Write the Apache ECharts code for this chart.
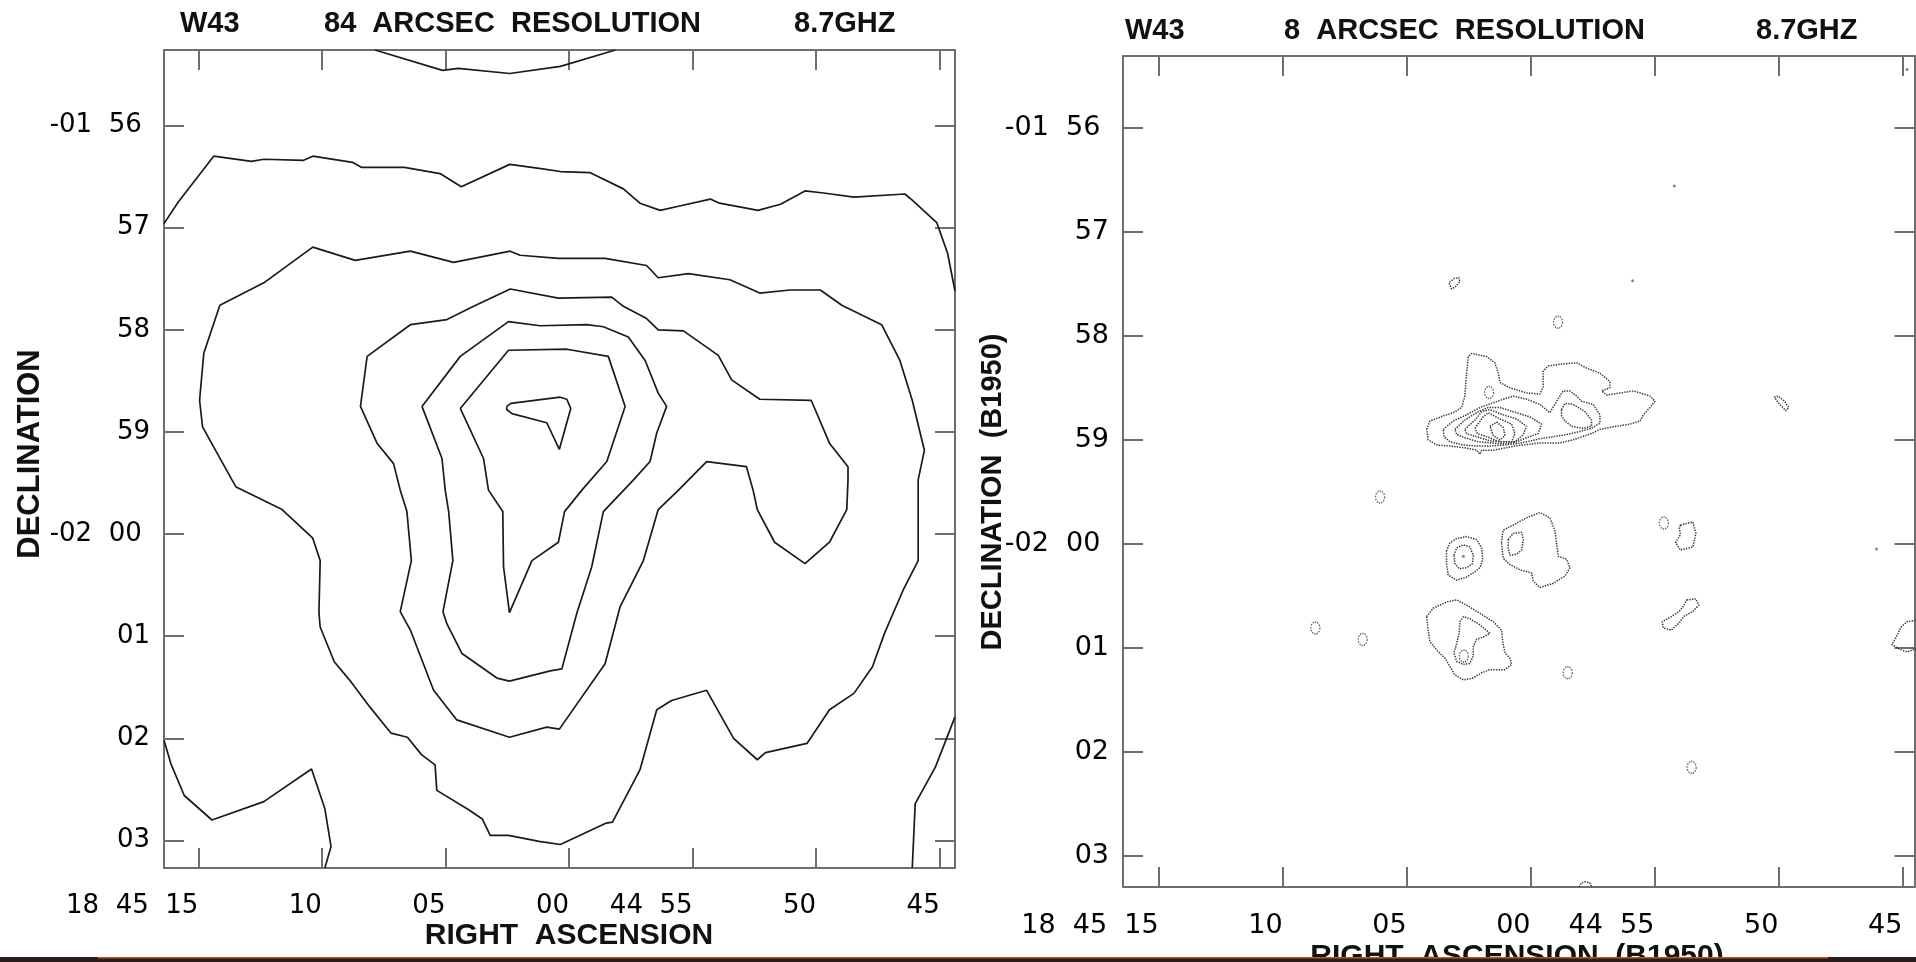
<!DOCTYPE html>
<html>
<head>
<meta charset="utf-8">
<title>W43 8.7GHz</title>
<script src="https://cdn.jsdelivr.net/npm/echarts@6/dist/echarts.min.js"></script>
<style>
  html, body { margin: 0; padding: 0; background: #fff; }
  #chart { width: 1916px; height: 962px; }
</style>
</head>
<body>
<div id="chart"></div>
<script>
// RA in seconds from 18h45m00s, Dec in arcmin from -02 00
var raTicks = [15, 10, 5, 0, -5, -10, -15];
var raLabels = ['18  45  15', '10', '05', '00', '44  55', '50', '45'];
var decTicks = [-4, -3, -2, -1, 0, 1, 2, 3];
var decLabels = ['-01  56 ', '57', '58', '59', '-02  00 ', '01', '02', '03'];

var leftRaExtent = [-15.62, 16.39];
var leftDecExtent = [-4.74, 3.27];
var rightRaExtent = [-15.49, 16.44];
var rightDecExtent = [-4.69, 3.30];

// 84 arcsec map, open contours (run off the box)
var lowTopArc = [[7.85,-4.74],[5.12,-4.54],[4.48,-4.56],[2.40,-4.51],[0.35,-4.58],[-1.88,-4.74]];
var lowBand = [[16.39,-3.04],[15.82,-3.25],[14.38,-3.70],[12.85,-3.65],[12.35,-3.67],[10.74,-3.66],[10.37,-3.70],
  [8.76,-3.64],[8.39,-3.59],[6.66,-3.59],[5.22,-3.53],[4.36,-3.40],[2.40,-3.62],[1.21,-3.58],[0.35,-3.55],
  [-0.84,-3.54],[-2.20,-3.38],[-2.87,-3.24],[-3.69,-3.17],[-4.43,-3.21],[-5.72,-3.28],[-6.09,-3.24],
  [-7.65,-3.17],[-8.56,-3.23],[-9.55,-3.36],[-10.30,-3.34],[-11.53,-3.30],[-13.59,-3.33],[-13.89,-3.27],
  [-14.88,-3.05],[-15.32,-2.75],[-15.62,-2.38]];
var lowSW = [[16.39,2.02],[16.11,2.25],[15.57,2.56],[14.45,2.80],[12.35,2.62],[10.42,2.30],[9.88,2.69],[9.63,3.06],[9.88,3.27]];
var lowSE = [[-15.62,1.79],[-14.83,2.28],[-14.01,2.64],[-13.89,3.27]];

// 84 arcsec map, closed contours from outside in
var lowC = [[14.13,-2.24],[12.35,-2.46],[10.37,-2.81],[8.65,-2.68],[6.42,-2.77],[4.67,-2.66],[2.38,-2.77],[1.98,-2.73],
  [0.43,-2.70],[-1.46,-2.70],[-3.14,-2.63],[-3.61,-2.51],[-4.83,-2.55],[-6.51,-2.49],[-7.72,-2.36],[-8.94,-2.39],
  [-10.17,-2.39],[-11.04,-2.24],[-12.65,-2.05],[-13.39,-1.70],[-13.89,-1.31],[-14.38,-0.82],[-14.13,-0.53],
  [-14.13,0.26],[-13.52,0.55],[-12.77,0.97],[-12.28,1.30],[-11.53,1.56],[-10.54,1.72],[-9.63,2.05],[-7.95,2.14],
  [-7.62,2.21],[-6.66,2.00],[-5.57,1.53],[-4.15,1.63],[-3.55,1.72],[-2.87,2.31],[-1.76,2.82],[-1.51,2.83],
  [0.35,3.04],[1.21,3.01],[2.45,2.95],[3.19,2.95],[3.51,2.79],[4.06,2.70],[5.35,2.51],[5.42,2.26],[5.97,2.16],
  [6.54,1.99],[7.20,1.95],[8.07,1.69],[8.88,1.43],[9.50,1.25],[10.07,0.91],[10.12,0.77],[10.07,0.26],
  [10.37,0.04],[11.61,-0.24],[13.47,-0.46],[13.64,-0.53],[14.83,-1.05],[14.95,-1.31],[14.78,-1.77]];
var lowF = [[8.17,-1.74],[6.42,-2.05],[4.94,-2.10],[3.86,-2.23],[2.38,-2.40],[0.43,-2.31],[-1.73,-2.32],[-2.20,-2.23],
  [-3.14,-2.11],[-3.61,-2.00],[-4.63,-1.99],[-6.04,-1.75],[-6.58,-1.51],[-7.72,-1.32],[-9.80,-1.31],[-10.54,-0.89],
  [-11.29,-0.66],[-11.29,-0.53],[-11.24,-0.24],[-10.54,0.08],[-9.55,0.29],[-8.32,0.08],[-7.62,-0.24],[-7.45,-0.43],
  [-7.18,-0.66],[-5.57,-0.71],[-4.43,-0.43],[-3.61,-0.24],[-3.01,0.26],[-2.07,0.71],[-1.46,1.27],[0.39,1.91],
  [0.90,1.89],[2.41,1.99],[4.54,1.82],[5.48,1.53],[6.42,0.94],[6.83,0.76],[6.38,0.26],[6.56,-0.22],[6.83,-0.43],
  [7.10,-0.69],[7.77,-0.89],[8.44,-1.25]];
var lowG = [[5.95,-1.25],[4.40,-1.74],[2.45,-2.08],[1.17,-2.04],[-0.72,-2.05],[-1.39,-2.03],[-2.40,-1.93],[-3.08,-1.70],
  [-3.61,-1.38],[-3.95,-1.25],[-3.55,-0.99],[-3.28,-0.71],[-2.61,-0.53],[-1.39,-0.22],[-0.92,0.32],[-0.31,0.78],
  [0.29,1.32],[0.76,1.34],[2.41,1.44],[2.92,1.41],[4.33,1.17],[4.94,0.88],[5.10,0.76],[4.70,0.26],[4.87,-0.22],
  [5.01,-0.43],[5.14,-0.74]];
var lowH = [[4.40,-1.23],[2.45,-1.80],[0.09,-1.81],[-1.59,-1.74],[-2.27,-1.25],[-1.53,-0.71],[-0.52,-0.43],[0.18,-0.22],
  [0.43,0.08],[1.50,0.26],[2.41,0.77],[2.65,0.32],[2.68,-0.22],[3.26,-0.43],[3.46,-0.74]];
var lowPeak = [[2.52,-1.25],[2.35,-1.28],[0.36,-1.34],[0.09,-1.32],[-0.07,-1.23],[0.39,-0.83],[0.90,-1.09],[2.31,-1.18],[2.52,-1.22]];

// 8 arcsec map, main cluster near -01 58.8
var hiOuter = [[4.19,-1.10],[4.06,-1.18],[3.52,-1.23],[3.12,-1.26],[2.78,-1.31],[2.65,-1.42],[2.58,-1.64],[2.51,-1.80],
  [2.38,-1.83],[1.77,-1.80],[1.44,-1.74],[1.30,-1.64],[1.23,-1.55],[0.83,-1.50],[0.16,-1.45],[-0.38,-1.44],
  [-0.51,-1.51],[-0.51,-1.66],[-0.72,-1.71],[-1.32,-1.73],[-1.86,-1.74],[-2.26,-1.69],[-2.80,-1.64],[-3.20,-1.56],
  [-3.20,-1.50],[-2.87,-1.47],[-3.07,-1.43],[-3.61,-1.45],[-4.15,-1.47],[-4.82,-1.42],[-5.02,-1.37],[-4.82,-1.31],
  [-4.55,-1.24],[-4.42,-1.18],[-4.01,-1.15],[-3.47,-1.13],[-2.80,-1.10],[-2.46,-1.06],[-1.72,-1.00],[-1.19,-0.97],
  [-0.38,-0.97],[0.63,-0.94],[1.50,-0.90],[1.97,-0.90],[2.04,-0.86],[2.18,-0.90],[2.58,-0.92],[3.25,-0.94],
  [3.79,-0.95],[4.13,-1.00]];
var hiLevel2 = [[3.52,-1.10],[3.12,-1.18],[2.58,-1.24],[2.04,-1.31],[1.57,-1.35],[1.10,-1.39],[0.70,-1.42],[0.16,-1.39],
  [-0.38,-1.34],[-0.78,-1.26],[-1.05,-1.37],[-1.32,-1.47],[-1.59,-1.47],[-1.86,-1.42],[-2.06,-1.37],[-2.53,-1.34],
  [-2.80,-1.24],[-2.80,-1.16],[-2.46,-1.11],[-1.99,-1.08],[-1.46,-1.05],[-0.92,-1.03],[-0.38,-1.01],[0.16,-0.98],
  [0.63,-0.96],[1.10,-0.95],[1.64,-0.94],[2.18,-0.94],[2.71,-0.95],[3.25,-0.98],[3.49,-1.03]];
var hiEastKnot = [[-1.25,-1.29],[-1.39,-1.35],[-1.72,-1.34],[-2.20,-1.27],[-2.46,-1.19],[-2.46,-1.13],[-2.13,-1.11],
  [-1.66,-1.13],[-1.39,-1.18],[-1.25,-1.23]];
var hiLevel3 = [[3.05,-1.10],[2.65,-1.19],[2.11,-1.27],[1.71,-1.31],[1.23,-1.31],[0.70,-1.27],[0.02,-1.22],[-0.45,-1.15],
  [-0.31,-1.06],[0.16,-1.02],[0.56,-0.98],[1.03,-0.96],[1.57,-0.97],[2.11,-0.98],[2.65,-1.02],[2.98,-1.05]];
var hiLevel4 = [[2.65,-1.10],[2.24,-1.19],[1.97,-1.27],[1.64,-1.29],[1.10,-1.24],[0.56,-1.20],[0.16,-1.13],[0.29,-1.05],
  [0.63,-0.98],[1.10,-0.98],[1.64,-0.99],[2.18,-1.03],[2.58,-1.06]];
var hiLevel5 = [[2.24,-1.11],[1.91,-1.22],[1.71,-1.26],[1.23,-1.20],[0.76,-1.15],[0.63,-1.06],[0.76,-0.98],[1.23,-0.98],
  [1.77,-1.03],[2.15,-1.06]];
var hiLevel6 = [[1.64,-1.13],[1.37,-1.17],[1.10,-1.12],[1.03,-1.04],[1.23,-1.00],[1.50,-1.04]];

// 8 arcsec map, sources around -02 00 and -02 01
var srcWestOuter = [[3.39,0.07],[3.25,-0.01],[2.98,-0.05],[2.58,-0.07],[2.18,-0.04],[1.97,0.04],[1.93,0.15],[2.04,0.23],
  [2.31,0.28],[2.58,0.32],[2.98,0.35],[3.32,0.30],[3.39,0.19]];
var srcWestInner = [[3.09,0.11],[2.98,0.04],[2.71,0.01],[2.45,0.03],[2.31,0.11],[2.34,0.19],[2.58,0.23],[2.88,0.24],[3.05,0.19]];
var srcEastOuter = [[1.17,-0.01],[1.11,-0.13],[0.70,-0.18],[0.16,-0.25],[-0.38,-0.30],[-0.78,-0.25],[-0.98,-0.13],
  [-1.05,-0.01],[-1.12,0.12],[-1.46,0.15],[-1.59,0.23],[-1.39,0.31],[-0.92,0.38],[-0.38,0.42],[-0.11,0.36],
  [-0.04,0.28],[0.43,0.25],[0.83,0.20],[1.10,0.14]];
var srcEastInner = [[0.90,-0.04],[0.70,-0.10],[0.36,-0.11],[0.29,-0.04],[0.36,0.06],[0.56,0.10],[0.83,0.11],[0.90,0.04]];
var srcSouthOuter = [[4.19,0.70],[3.93,0.62],[3.39,0.56],[2.98,0.54],[2.58,0.59],[2.04,0.67],[1.50,0.75],[1.17,0.83],
  [1.11,0.96],[1.03,1.05],[0.83,1.10],[0.76,1.16],[1.03,1.21],[1.64,1.21],[1.97,1.24],[2.31,1.29],[2.71,1.31],
  [3.05,1.26],[3.25,1.18],[3.45,1.10],[3.79,1.02],[4.06,0.94],[4.13,0.83]];
var srcSouthInner = [[2.85,0.75],[2.71,0.70],[2.45,0.72],[2.04,0.78],[1.64,0.86],[1.84,0.89],[2.18,0.92],[2.31,0.99],
  [2.31,1.08],[2.45,1.15],[2.71,1.16],[2.98,1.13],[3.09,1.05],[2.98,0.96],[2.88,0.86]];
var blobNW = [[3.22,-2.47],[3.29,-2.51],[3.09,-2.55],[2.89,-2.56],[2.85,-2.52],[3.04,-2.47],[3.19,-2.45]];
var blobNE = [[-9.83,-1.41],[-10.00,-1.42],[-10.25,-1.37],[-10.42,-1.31],[-10.30,-1.28],[-10.05,-1.34]];
var blobOval = [[-6.05,-0.18],[-6.55,-0.21],[-6.67,-0.10],[-6.55,0.03],[-6.05,0.06],[-5.85,-0.01],[-6.05,-0.09],[-6.00,-0.15]];
var blobChain = [[-6.30,0.54],[-6.67,0.53],[-6.79,0.59],[-6.55,0.65],[-6.17,0.70],[-6.00,0.76],[-5.68,0.83],[-5.36,0.81],
  [-5.31,0.75],[-5.68,0.70],[-6.00,0.65],[-6.17,0.60]];
var edgeSouth = [[-1.97,3.30],[-2.05,3.26],[-2.22,3.25],[-2.39,3.26],[-2.47,3.30]];
var edgeEast = [[-15.64,0.73],[-15.19,0.75],[-14.95,0.80],[-14.70,0.92],[-14.57,0.97],[-14.95,1.02],[-15.19,1.04],[-15.64,1.00]];
var smallLoops = [[-1.11,-2.13],[6.07,-0.45],[8.68,0.81],[6.77,0.92],[-1.50,1.24],[-5.38,-0.20],[-6.50,2.15],[1.67,-1.455],[2.69,1.08]];
var specks = [[-5.80,-3.44],[-4.12,-2.53],[-13.96,0.05],[-15.19,-4.56],[2.71,0.12]];

var chart = echarts.init(document.getElementById('chart'));

var boxColor = '#6e6e6e';
var labelFont = 'DejaVu Sans';

function raAxis(grid, position, extent, withLabels, size) {
  return {
    type: 'value', gridIndex: grid, position: position, inverse: true,
    min: extent[0], max: extent[1],
    splitLine: { show: false },
    axisLine: { show: true, onZero: false, lineStyle: { color: boxColor, width: 2 } },
    axisTick: { show: true, inside: true, length: 20, customValues: raTicks, lineStyle: { color: boxColor, width: 2 } },
    axisLabel: {
      show: withLabels, customValues: raTicks, margin: 25, align: 'right',
      color: '#000', fontFamily: labelFont, fontSize: size,
      formatter: function (v) { return raLabels[raTicks.indexOf(v)]; }
    }
  };
}

function decAxis(grid, position, extent, withLabels, size) {
  return {
    type: 'value', gridIndex: grid, position: position, inverse: true,
    min: extent[0], max: extent[1],
    splitLine: { show: false },
    axisLine: { show: true, onZero: false, lineStyle: { color: boxColor, width: 2 } },
    axisTick: { show: true, inside: true, length: 20, customValues: decTicks, lineStyle: { color: boxColor, width: 2 } },
    axisLabel: {
      show: withLabels, customValues: decTicks, margin: 14,
      color: '#000', fontFamily: labelFont, fontSize: size,
      formatter: function (v) { return decLabels[decTicks.indexOf(v)]; }
    }
  };
}

var solidLine = { color: '#1a1a1a', width: 1.7 };
var dottedLine = { color: '#383838', width: 1.5, type: [1.4, 1.2] };

function contour(points, panel, closed) {
  return {
    type: 'line', xAxisIndex: panel * 2, yAxisIndex: panel * 2,
    data: closed ? points.concat([points[0]]) : points,
    showSymbol: false, symbol: 'none', clip: true, silent: true,
    lineStyle: panel ? dottedLine : solidLine
  };
}

var series = [
  contour(lowTopArc, 0, false), contour(lowBand, 0, false), contour(lowSW, 0, false), contour(lowSE, 0, false),
  contour(lowC, 0, true), contour(lowF, 0, true), contour(lowG, 0, true), contour(lowH, 0, true), contour(lowPeak, 0, true),
  contour(hiOuter, 1, true), contour(hiLevel2, 1, true), contour(hiEastKnot, 1, true), contour(hiLevel3, 1, true),
  contour(hiLevel4, 1, true), contour(hiLevel5, 1, true), contour(hiLevel6, 1, true),
  contour(srcWestOuter, 1, true), contour(srcWestInner, 1, true), contour(srcEastOuter, 1, true), contour(srcEastInner, 1, true),
  contour(srcSouthOuter, 1, true), contour(srcSouthInner, 1, true),
  contour(blobNW, 1, true), contour(blobNE, 1, true), contour(blobOval, 1, true), contour(blobChain, 1, true),
  contour(edgeSouth, 1, false), contour(edgeEast, 1, false),
  {
    type: 'scatter', xAxisIndex: 2, yAxisIndex: 2, data: smallLoops, silent: true,
    symbol: 'circle', symbolSize: [9, 12],
    itemStyle: { color: 'rgba(0,0,0,0)', borderColor: '#383838', borderWidth: 1.4, borderType: [1.4, 1.2] }
  },
  {
    type: 'scatter', xAxisIndex: 2, yAxisIndex: 2, data: specks, silent: true,
    symbol: 'circle', symbolSize: 3, itemStyle: { color: '#666' }
  }
];

var titleFont = 'bold 29px "Liberation Sans", Arial, sans-serif';
var nameFont = 'bold 30px "Liberation Sans", Arial, sans-serif';

function label(text, x, y, font, align, rotate) {
  return {
    type: 'text', x: x, y: y, rotation: rotate ? Math.PI / 2 : 0, z: 10,
    style: { text: text, font: font, fill: '#111', align: align, verticalAlign: 'middle' }
  };
}

var option = {
  animation: false,
  backgroundColor: '#fff',
  grid: [
    { left: 164, top: 50, width: 791, height: 818, outerBoundsMode: 'none' },
    { left: 1123, top: 56, width: 791.5, height: 831, outerBoundsMode: 'none' }
  ],
  xAxis: [
    raAxis(0, 'bottom', leftRaExtent, true, 26),
    raAxis(0, 'top', leftRaExtent, false, 26),
    raAxis(1, 'bottom', rightRaExtent, true, 27),
    raAxis(1, 'top', rightRaExtent, false, 27)
  ],
  yAxis: [
    decAxis(0, 'left', leftDecExtent, true, 26),
    decAxis(0, 'right', leftDecExtent, false, 26),
    decAxis(1, 'left', rightDecExtent, true, 27),
    decAxis(1, 'right', rightDecExtent, false, 27)
  ],
  series: series,
  graphic: [
    label('W43', 180, 24, titleFont, 'left'),
    label('84  ARCSEC  RESOLUTION', 324, 24, titleFont, 'left'),
    label('8.7GHZ', 794, 24, titleFont, 'left'),
    label('W43', 1125, 30.5, titleFont, 'left'),
    label('8  ARCSEC  RESOLUTION', 1284, 30.5, titleFont, 'left'),
    label('8.7GHZ', 1756, 30.5, titleFont, 'left'),
    label('DECLINATION', 30, 454, 'bold 31px "Liberation Sans", Arial, sans-serif', 'center', true),
    label('DECLINATION  (B1950)', 993, 492, 'bold 29px "Liberation Sans", Arial, sans-serif', 'center', true),
    label('RIGHT  ASCENSION', 569, 936, nameFont, 'center'),
    label('RIGHT  ASCENSION  (B1950)', 1517, 957, nameFont, 'center'),
    { type: 'rect', z: 50, shape: { x: 0, y: 957, width: 1916, height: 5 }, style: { fill: '#2a1c1c' } },
    { type: 'rect', z: 51, shape: { x: 98, y: 957, width: 1730, height: 1.5 }, style: { fill: '#c4521e' } }
  ]
};

chart.setOption(option);
</script>
</body>
</html>
